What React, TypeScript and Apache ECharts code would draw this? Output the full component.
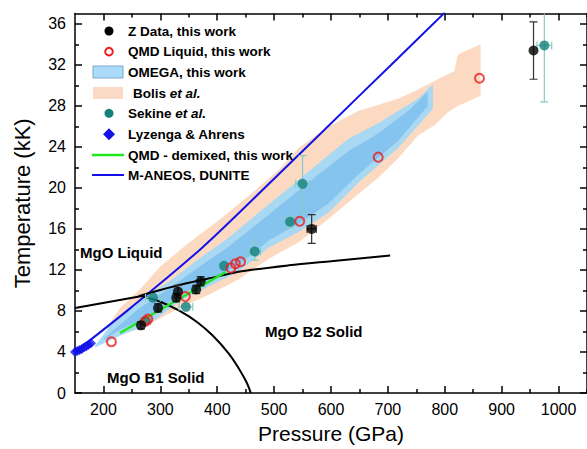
import React, { useEffect, useRef } from "react";
import * as echarts from "echarts";

const FONT = "'Liberation Sans', Arial, Helvetica, sans-serif";

// ---- axes ----
const xMin = 150;
const xMax = 1050;
const yMin = 0;
const yMax = 37;
const xMajorTicks = [200, 300, 400, 500, 600, 700, 800, 900, 1000];
const xMinorTicks = [250, 350, 450, 550, 650, 750, 850, 950, 1050];
const yMajorTicks = [0, 4, 8, 12, 16, 20, 24, 28, 32, 36];
const yMinorTicks = [2, 6, 10, 14, 18, 22, 26, 30, 34];

// ---- Z Data, this work ----
const zP = [266, 296, 328, 331, 363, 371, 566, 956];
const zT = [6.6, 8.3, 9.3, 9.9, 10.1, 10.9, 16.0, 33.4];
const zPErr = [0, 0, 0, 0, 0, 0, 8, 0];
const zTErr = [0.35, 0.4, 0.4, 0.6, 0.4, 0.45, 1.4, 2.8];

// ---- QMD Liquid, this work ----
const qmdP = [214, 274, 278, 344, 424, 432, 441, 545, 683, 861];
const qmdT = [5.0, 7.0, 7.2, 9.4, 12.2, 12.6, 12.8, 16.75, 23.0, 30.7];

// ---- Sekine et al. ----
const sekP = [273, 287, 345, 412, 466, 528, 550, 975];
const sekT = [7.0, 9.3, 8.4, 12.4, 13.8, 16.7, 20.4, 33.9];
const sekPErr = [10, 13, 12, 0, 10, 10, 12, 13];
const sekTErr = [0, 0, 0, 0, 0.85, 0.5, 2.75, 5.5];

// ---- Lyzenga & Ahrens ----
const lyzP = [150, 154, 158, 162, 166, 170, 174, 178];
const lyzT = [4.0, 4.1, 4.2, 4.3, 4.45, 4.55, 4.7, 4.85];

// ---- QMD - demixed ----
const demixP = [229, 415];
const demixT = [5.85, 11.8];

// ---- M-ANEOS, DUNITE ----
const aneosP = [150, 250, 374, 500, 650, 800];
const aneosT = [4.0, 8.4, 14.2, 20.9, 29.0, 37.1];

// ---- phase boundaries ----
const b1MeltP = [150, 268];
const b1MeltT = [8.3, 9.45];
const b2MeltP = [262, 300, 350, 400, 440, 526, 600, 704];
const b2MeltT = [9.45, 10.05, 10.75, 11.35, 11.85, 12.45, 12.85, 13.4];
const b1b2P = [268, 300, 334, 365, 392, 421, 440, 452, 459];
const b1b2T = [9.45, 8.9, 8.0, 6.9, 5.6, 3.8, 2.2, 1.0, 0];

// ---- Bolis et al. band ----
const bolisUpperP = [208, 229, 264, 299, 351, 404, 456, 508, 543, 596, 648, 718, 753, 788, 817, 823, 863];
const bolisUpperT = [6.5, 8.3, 10.1, 12.3, 14.7, 16.9, 19.25, 21.75, 23.9, 26.0, 27.5, 28.7, 29.6, 30.6, 31.4, 33.0, 34.0];
const bolisLowerP = [863, 823, 806, 782, 753, 718, 683, 631, 578, 543, 491, 438, 386, 334, 281, 229, 208];
const bolisLowerT = [29.0, 28.0, 27.4, 26.1, 25.1, 22.9, 21.0, 18.6, 16.2, 14.7, 13.1, 11.1, 9.6, 8.3, 6.74, 5.6, 5.1];

// ---- OMEGA band ----
const omegaUpperP = [185, 211, 264, 316, 368, 421, 473, 526, 578, 631, 683, 753, 779];
const omegaUpperT = [4.6, 6.5, 9.0, 10.9, 13.1, 15.2, 17.6, 20.0, 22.4, 24.8, 26.3, 28.7, 30.1];
const omegaLowerP = [779, 718, 648, 596, 543, 491, 438, 386, 334, 281, 229, 185];
const omegaLowerT = [27.7, 23.9, 20.5, 17.6, 15.7, 14.2, 11.84, 10.4, 8.95, 6.74, 5.58, 4.43];
const omegaCoreUpperP = [200, 264, 316, 368, 421, 473, 526, 578, 631, 683, 740, 770];
const omegaCoreUpperT = [5.3, 8.3, 10.2, 12.3, 14.3, 16.6, 19.0, 21.3, 23.6, 25.3, 27.7, 29.4];
const omegaCoreLowerP = [770, 718, 648, 596, 543, 491, 438, 386, 334, 281, 229, 200];
const omegaCoreLowerT = [28.0, 24.6, 21.3, 18.5, 16.5, 14.9, 12.5, 11.0, 9.6, 7.5, 6.2, 5.2];

// ---- legend ----
const legendNames = [
  "Z Data, this work",
  "QMD Liquid, this work",
  "OMEGA, this work",
  "Bolis {i|et al.}",
  "Sekine {i|et al.}",
  "Lyzenga & Ahrens",
  "QMD - demixed, this work",
  "M-ANEOS, DUNITE",
];

const C_TEAL = "#13817b";
const C_TEAL_ERR = "#86cbc8";
const C_RED = "#ee1c1c";
const C_GREEN = "#22e622";
const C_BLUE = "#1212e8";
const C_PEACH = "rgba(250,205,172,0.75)";
const C_OMEGA = "rgba(160,215,248,0.9)";
const C_OMEGA_CORE = "rgba(95,175,236,0.5)";

const zip = (a: number[], b: number[]) => a.map((v, i) => [v, b[i]]);

function bandSeries(name: string, up: number[], ut: number[], lp: number[], lt: number[], fill: string, z: number) {
  return {
    type: "custom",
    name,
    z,
    silent: true,
    clip: true,
    data: [[up[0], ut[0]]],
    renderItem: (_params: any, api: any) => {
      const pts: number[][] = [];
      for (let i = 0; i < up.length; i++) pts.push(api.coord([up[i], ut[i]]));
      for (let i = 0; i < lp.length; i++) pts.push(api.coord([lp[i], lt[i]]));
      return { type: "polygon", shape: { points: pts }, style: { fill, stroke: "none" } };
    },
  };
}

function errSeries(name: string, P: number[], T: number[], PE: number[], TE: number[], color: string, z: number) {
  return {
    type: "custom",
    name,
    z,
    silent: true,
    clip: true,
    data: P.map((p, i) => [p, T[i], PE[i], TE[i]]),
    renderItem: (_params: any, api: any) => {
      const x = api.value(0);
      const y = api.value(1);
      const xe = api.value(2);
      const ye = api.value(3);
      const c = api.coord([x, y]);
      const cap = 4;
      const st = { stroke: color, lineWidth: 1.2 };
      const ch: any[] = [];
      if (ye > 0) {
        const t = api.coord([x, y + ye]);
        const b = api.coord([x, y - ye]);
        ch.push({ type: "line", shape: { x1: c[0], y1: t[1], x2: c[0], y2: b[1] }, style: st });
        ch.push({ type: "line", shape: { x1: c[0] - cap, y1: t[1], x2: c[0] + cap, y2: t[1] }, style: st });
        ch.push({ type: "line", shape: { x1: c[0] - cap, y1: b[1], x2: c[0] + cap, y2: b[1] }, style: st });
      }
      if (xe > 0) {
        const l = api.coord([x - xe, y]);
        const r = api.coord([x + xe, y]);
        ch.push({ type: "line", shape: { x1: l[0], y1: c[1], x2: r[0], y2: c[1] }, style: st });
        ch.push({ type: "line", shape: { x1: l[0], y1: c[1] - cap, x2: l[0], y2: c[1] + cap }, style: st });
        ch.push({ type: "line", shape: { x1: r[0], y1: c[1] - cap, x2: r[0], y2: c[1] + cap }, style: st });
      }
      return { type: "group", children: ch };
    },
  };
}

function lineSeries(name: string, P: number[], T: number[], color: string, width: number, z: number, smooth: number | boolean = false) {
  return {
    type: "line",
    name,
    z,
    data: zip(P, T),
    showSymbol: false,
    symbol: "none",
    smooth,
    clip: true,
    silent: true,
    lineStyle: { color, width },
  };
}

function axisPair(dim: "x" | "y", pos: string, major: number[], minor: number[], main: boolean) {
  const min = dim === "x" ? xMin : yMin;
  const max = dim === "x" ? xMax : yMax;
  const majorAxis: any = {
    type: "value",
    position: pos,
    min,
    max,
    axisLine: { show: true, onZero: false, lineStyle: { color: "#000", width: 1.5 } },
    axisTick: { show: true, inside: true, length: 7, customValues: major, lineStyle: { color: "#000", width: 1.5 } },
    axisLabel: main
      ? {
          show: true,
          customValues: major,
          margin: dim === "x" ? 8 : 9,
          fontSize: 16,
          color: "#000",
          fontFamily: FONT,
          formatter: (v: number) => String(v),
        }
      : { show: false },
    splitLine: { show: false },
  };
  if (main && dim === "x") {
    majorAxis.name = "Pressure (GPa)";
    majorAxis.nameLocation = "middle";
    majorAxis.nameGap = 30;
    majorAxis.nameTextStyle = { fontSize: 21, color: "#000", fontFamily: FONT };
  }
  if (main && dim === "y") {
    majorAxis.name = "Temperature (kK)";
    majorAxis.nameLocation = "middle";
    majorAxis.nameGap = 42;
    majorAxis.nameTextStyle = { fontSize: 22, color: "#000", fontFamily: FONT };
  }
  const minorAxis: any = {
    type: "value",
    position: pos,
    min,
    max,
    axisLine: { show: false, onZero: false },
    axisTick: { show: true, inside: true, length: 4, customValues: minor, lineStyle: { color: "#000", width: 1.5 } },
    axisLabel: { show: false },
    splitLine: { show: false },
  };
  return [majorAxis, minorAxis];
}

export default function App() {
  const ref = useRef<HTMLDivElement>(null);
  useEffect(() => {
    document.body.style.margin = "0";
    if (!ref.current) return;
    const chart = echarts.init(ref.current, undefined, { renderer: "svg" });

    const legendY = [31, 51.7, 72, 93, 113.3, 134.3, 155, 175];
    const symX = 109;
    const textX = 128;
    const lt = (i: number, extraX = 0) => ({
      type: "text",
      x: textX + extraX,
      y: legendY[i],
      style: {
        text: legendNames[i],
        fill: "#000",
        fontSize: 13.5,
        fontWeight: "bold",
        fontFamily: FONT,
        verticalAlign: "middle",
        rich: { i: { fontStyle: "italic", fontWeight: "bold", fontSize: 13.5, fontFamily: FONT, fill: "#000" } },
      },
      z: 100,
    });

    const graphic: any[] = [
      { type: "circle", shape: { cx: symX, cy: legendY[0], r: 4.5 }, style: { fill: "#000" }, z: 100 },
      { type: "circle", shape: { cx: symX, cy: legendY[1], r: 3.8 }, style: { fill: "none", stroke: C_RED, lineWidth: 2 }, z: 100 },
      { type: "rect", shape: { x: 93, y: legendY[2] - 6, width: 30, height: 12 }, style: { fill: "#a9dbf8", stroke: "#7ea8c8", lineWidth: 1 }, z: 100 },
      { type: "rect", shape: { x: 93, y: legendY[3] - 6, width: 30, height: 12 }, style: { fill: "#fbdac5" }, z: 100 },
      { type: "circle", shape: { cx: symX, cy: legendY[4], r: 4.5 }, style: { fill: C_TEAL }, z: 100 },
      {
        type: "polygon",
        shape: { points: [[symX, legendY[5] - 6], [symX + 6, legendY[5]], [symX, legendY[5] + 6], [symX - 6, legendY[5]]] },
        style: { fill: C_BLUE },
        z: 100,
      },
      { type: "line", shape: { x1: 92, y1: legendY[6], x2: 124, y2: legendY[6] }, style: { stroke: C_GREEN, lineWidth: 2.5 }, z: 100 },
      { type: "line", shape: { x1: 92, y1: legendY[7], x2: 124, y2: legendY[7] }, style: { stroke: C_BLUE, lineWidth: 2 }, z: 100 },
      lt(0), lt(1), lt(2), lt(3, 5), lt(4), lt(5), lt(6), lt(7),
      {
        type: "text", x: 80, y: 252, z: 100,
        style: { text: "MgO Liquid", fill: "#000", fontSize: 15, fontWeight: "bold", fontFamily: FONT, verticalAlign: "middle" },
      },
      {
        type: "text", x: 265, y: 331, z: 100,
        style: { text: "MgO B2 Solid", fill: "#000", fontSize: 15, fontWeight: "bold", fontFamily: FONT, verticalAlign: "middle" },
      },
      {
        type: "text", x: 107, y: 377, z: 100,
        style: { text: "MgO B1 Solid", fill: "#000", fontSize: 15, fontWeight: "bold", fontFamily: FONT, verticalAlign: "middle" },
      },
    ];

    const option: any = {
      animation: false,
      backgroundColor: "#fff",
      grid: { left: 75, top: 13.6, width: 515, height: 384.4, containLabel: false },
      xAxis: [
        ...axisPair("x", "bottom", xMajorTicks, xMinorTicks, true),
        ...axisPair("x", "top", xMajorTicks, xMinorTicks, false),
      ],
      yAxis: [
        ...axisPair("y", "left", yMajorTicks, yMinorTicks, true),
        ...axisPair("y", "right", yMajorTicks, yMinorTicks, false),
      ],
      series: [
        bandSeries("Bolis et al.", bolisUpperP, bolisUpperT, bolisLowerP, bolisLowerT, C_PEACH, 1),
        bandSeries("OMEGA, this work", omegaUpperP, omegaUpperT, omegaLowerP, omegaLowerT, C_OMEGA, 2),
        bandSeries("OMEGA core", omegaCoreUpperP, omegaCoreUpperT, omegaCoreLowerP, omegaCoreLowerT, C_OMEGA_CORE, 3),
        lineSeries("M-ANEOS, DUNITE", aneosP, aneosT, C_BLUE, 2, 4, 0.3),
        lineSeries("B1 melting", b1MeltP, b1MeltT, "#000", 2, 4),
        lineSeries("B2 melting", b2MeltP, b2MeltT, "#000", 2, 4, 0.3),
        lineSeries("B1-B2", b1b2P, b1b2T, "#000", 2, 4, 0.4),
        lineSeries("QMD - demixed, this work", demixP, demixT, C_GREEN, 2.5, 5),
        errSeries("Sekine err", sekP, sekT, sekPErr, sekTErr, C_TEAL_ERR, 6),
        errSeries("Z err", zP, zT, zPErr, zTErr, "#333", 6),
        {
          type: "scatter", name: "Lyzenga & Ahrens", z: 7, symbol: "diamond", symbolSize: 10,
          data: zip(lyzP, lyzT), itemStyle: { color: C_BLUE }, clip: true,
        },
        {
          type: "scatter", name: "Sekine et al.", z: 8, symbol: "circle", symbolSize: 10,
          data: zip(sekP, sekT), itemStyle: { color: C_TEAL }, clip: true,
        },
        {
          type: "scatter", name: "QMD Liquid, this work", z: 9, symbol: "circle", symbolSize: 9,
          data: zip(qmdP, qmdT), itemStyle: { color: "rgba(255,255,255,0)", borderColor: C_RED, borderWidth: 2 }, clip: true,
        },
        {
          type: "scatter", name: "Z Data, this work", z: 10, symbol: "circle", symbolSize: 10,
          data: zip(zP, zT), itemStyle: { color: "#000" }, clip: true,
        },
      ],
      graphic,
    };
    chart.setOption(option);
    return () => chart.dispose();
  }, []);
  return <div ref={ref} style={{ width: 587, height: 449 }} />;
}
